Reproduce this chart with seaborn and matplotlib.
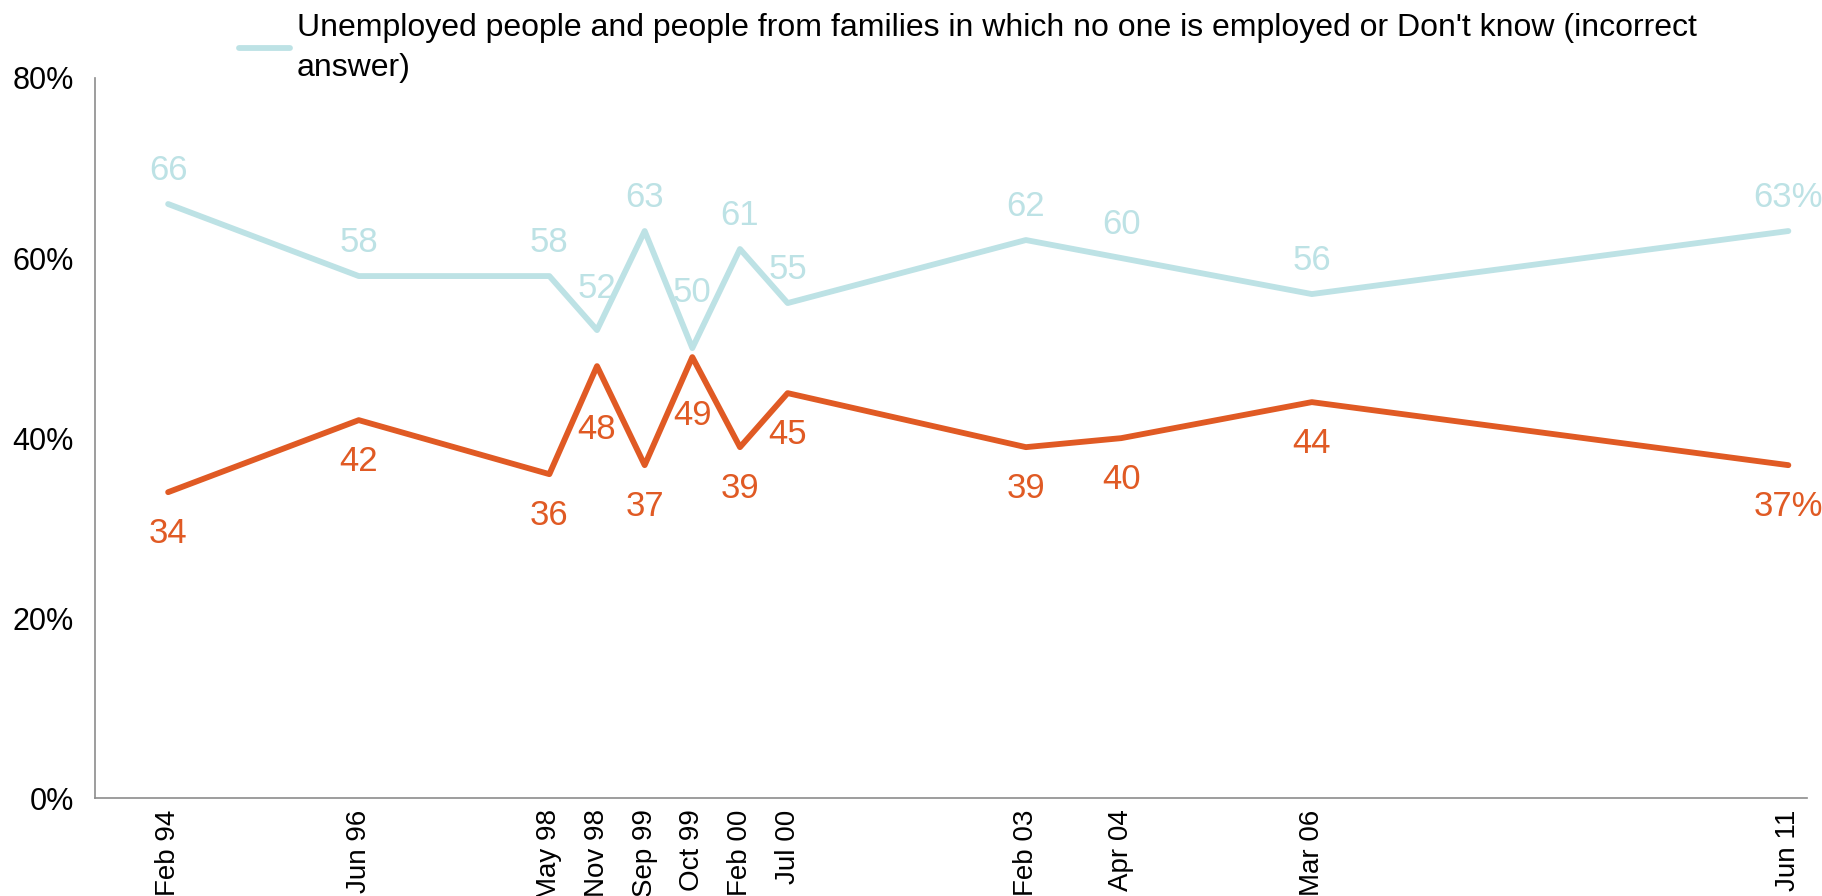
import matplotlib
matplotlib.use("Agg")
import matplotlib.pyplot as plt
import seaborn as sns
import pandas as pd
from matplotlib.lines import Line2D

# Survey waves and results (%)
waves = ["Feb 94", "Jun 96", "May 98", "Nov 98", "Sep 99", "Oct 99",
         "Feb 00", "Jul 00", "Feb 03", "Apr 04", "Mar 06", "Jun 11"]
unemployed = [66, 58, 58, 52, 63, 50, 61, 55, 62, 60, 56, 63]
employed = [34, 42, 36, 48, 37, 49, 39, 45, 39, 40, 44, 37]
y_ticks = [0, 20, 40, 60, 80]

# Category slots on the horizontal axis (gaps leave room between waves)
slots = [0, 4, 8, 9, 10, 11, 12, 13, 18, 20, 24, 34]

# Extra label distance (points) where the line turns sharply
extra_up = {3: 6, 5: 16}
extra_down = {3: 16, 5: 12}

blue = "#BDE2E5"
orange = "#E05A24"

sns.set_theme(style="white")
plt.rcParams["font.family"] = ["Liberation Sans", "DejaVu Sans"]
plt.rcParams["text.color"] = "black"
plt.rcParams["xtick.color"] = "black"
plt.rcParams["ytick.color"] = "black"

fig = plt.figure(figsize=(18.22, 8.96), dpi=100)
ax = fig.add_axes([0.052, 0.109, 0.940, 0.804])

df = pd.DataFrame({
    "slot": slots * 2,
    "value": unemployed + employed,
    "series": ["unemployed"] * len(slots) + ["employed"] * len(slots),
})
sns.lineplot(data=df, x="slot", y="value", hue="series",
             palette={"unemployed": blue, "employed": orange},
             linewidth=4.2, legend=False, ax=ax, sort=False)

n = len(slots)
for i, (x, v) in enumerate(zip(slots, unemployed)):
    txt = f"{v}%" if i == n - 1 else f"{v}"
    ax.annotate(txt, (x, v), xytext=(0, 24 + extra_up.get(i, 0)),
                textcoords="offset points", ha="center", va="center",
                color=blue, fontsize=25)
for i, (x, v) in enumerate(zip(slots, employed)):
    txt = f"{v}%" if i == n - 1 else f"{v}"
    ax.annotate(txt, (x, v), xytext=(0, -30 - extra_down.get(i, 0)),
                textcoords="offset points", ha="center", va="center",
                color=orange, fontsize=25)

ax.set_xlim(-1.54, 34.4)
ax.set_ylim(0, 80)
ax.set_yticks(y_ticks)
ax.set_yticklabels([f"{t}%" for t in y_ticks], fontsize=22, color="black")
ax.set_xticks(slots)
ax.set_xticklabels(waves, rotation=90, fontsize=20, va="top", color="black")
ax.tick_params(axis="y", length=0, pad=15)
ax.tick_params(axis="x", length=0, pad=8)
ax.set_xlabel("")
ax.set_ylabel("")

for side in ["top", "right"]:
    ax.spines[side].set_visible(False)
for side in ["left", "bottom"]:
    ax.spines[side].set_color("#8c8c8c")
    ax.spines[side].set_linewidth(1.2)

handle = Line2D([0], [0], color=blue, linewidth=4.2)
leg = fig.legend([handle],
                 ["Unemployed people and people from families in which no one is employed or Don't know (incorrect\nanswer)"],
                 loc="upper left", bbox_to_anchor=(0.1155, 1.018), frameon=False,
                 fontsize=23, handlelength=1.6, handletextpad=0.2, labelspacing=0)
for t in leg.get_texts():
    t.set_linespacing(1.45)
    t.set_color("black")

fig.savefig("out.png", dpi=100)
